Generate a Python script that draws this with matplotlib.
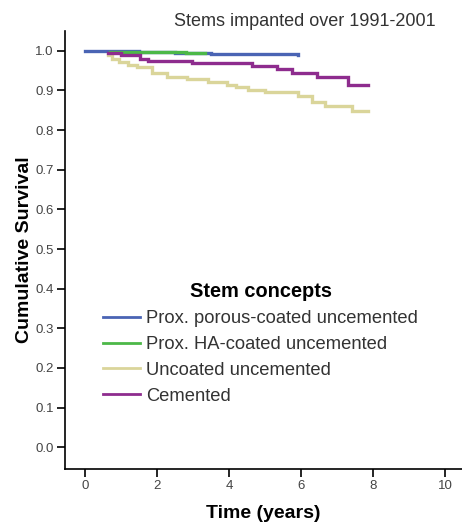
import matplotlib
matplotlib.use("Agg")
import matplotlib.pyplot as plt

plt.rcParams['font.family'] = ['Liberation Sans', 'DejaVu Sans']

# Data (Kaplan-Meier step curves)
blue_t = [0, 0.6, 1.5, 2.5, 3.5, 4.5, 5.9]
blue_s = [1.0, 0.999, 0.997, 0.995, 0.993, 0.991, 0.989]

green_t = [0.7, 1.2, 2.0, 2.8, 3.33]
green_s = [0.998, 0.997, 0.996, 0.995, 0.995]

yellow_t = [0.64, 0.75, 0.95, 1.2, 1.45, 1.86, 2.27, 2.83, 3.42, 3.93, 4.2, 4.53, 5.0, 5.9, 6.3, 6.67, 7.4, 7.86]
yellow_s = [0.99, 0.98, 0.972, 0.965, 0.958, 0.945, 0.935, 0.928, 0.921, 0.914, 0.908, 0.901, 0.895, 0.886, 0.872, 0.860, 0.848, 0.848]

purple_t = [0.64, 1.0, 1.53, 1.75, 2.97, 4.64, 5.33, 5.75, 6.44, 7.3, 7.86]
purple_s = [0.995, 0.99, 0.98, 0.975, 0.969, 0.962, 0.955, 0.945, 0.935, 0.914, 0.914]

labels = ["Prox. porous-coated uncemented", "Prox. HA-coated uncemented",
          "Uncoated uncemented", "Cemented"]
colors = ["#4a64b4", "#4cb848", "#dad59a", "#8e2c8e"]
x_ticks = [0, 2, 4, 6, 8, 10]
y_ticks = [0.0, 0.1, 0.2, 0.3, 0.4, 0.5, 0.6, 0.7, 0.8, 0.9, 1.0]

fig = plt.figure(figsize=(4.62, 5.23), dpi=100)
ax = fig.add_axes([65/462, 54/523, 1 - 65/462, (469-31)/523])

series = [(blue_t, blue_s), (green_t, green_s), (yellow_t, yellow_s), (purple_t, purple_s)]
for (t, s), c, lab in zip(series, colors, labels):
    ax.step(t, s, where='post', color=c, lw=2.4, label=lab, solid_joinstyle='miter')

ax.set_xlim(-0.56, 10.47)
ax.set_ylim(-0.055, 1.05)
ax.set_xticks(x_ticks)
ax.set_yticks(y_ticks)
ax.set_yticklabels([f"{v:.1f}" for v in y_ticks])
ax.spines['top'].set_visible(False)
ax.spines['right'].set_visible(False)
for sp in ['left', 'bottom']:
    ax.spines[sp].set_linewidth(1.2)
ax.tick_params(direction='out', length=6, width=1.2, labelsize=9.5, labelcolor='#444444', pad=2)

ax.set_xlabel("Time (years)", fontsize=14, fontweight='bold', labelpad=9.5)
ax.set_ylabel("Cumulative Survival", fontsize=14, fontweight='bold', labelpad=1.5)

fig.text(305/462, 1 - 21/523, "Stems impanted over 1991-2001", ha='center', va='center',
         fontsize=13, color='#333333')

leg = ax.legend(loc='upper left', bbox_to_anchor=(96/462, 1 - 275/523), bbox_transform=fig.transFigure,
                frameon=False, title="Stem concepts", fontsize=13.2, handlelength=2.0,
                labelspacing=0.48, handletextpad=0.35, borderaxespad=0)
leg.get_title().set_fontweight('bold')
leg.get_title().set_fontsize(14.4)
for line in leg.get_lines():
    line.set_linewidth(2.0)
for t in leg.get_texts():
    t.set_color('#333333')

fig.savefig("out.png", dpi=100)
